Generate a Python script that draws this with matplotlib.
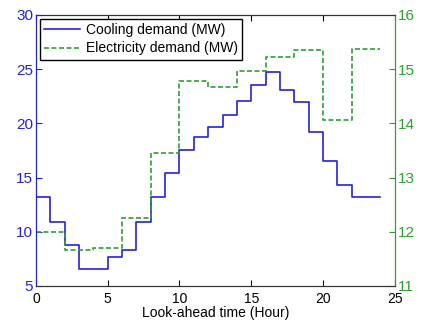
import numpy as np
import matplotlib
matplotlib.use('Agg')
import matplotlib.pyplot as plt

plt.rcParams['font.family'] = ['Liberation Sans', 'DejaVu Sans']

# hourly values (step, held over each hour)
hours = np.arange(0, 25)
cooling = [13.2, 10.9, 8.8, 6.6, 6.6, 7.7, 8.3, 10.9, 13.2, 15.4, 17.5, 18.7,
           19.7, 20.8, 22.1, 23.5, 24.7, 23.1, 22.0, 19.2, 16.5, 14.3, 13.2, 13.2]
electricity = [12.0, 12.0, 11.66, 11.66, 11.71, 11.71, 12.26, 12.26, 13.46, 13.46,
               14.79, 14.79, 14.68, 14.68, 14.96, 14.96, 15.23, 15.23, 15.35, 15.35,
               14.07, 14.07, 15.38, 15.38]

blue = '#2020e8'
green = '#2ea02e'

fig = plt.figure(figsize=(4.21, 3.27), dpi=100)
ax = fig.add_axes([0.0855, 0.1254, 0.852, 0.8288])
ax2 = ax.twinx()

l1, = ax.step(hours, cooling + [cooling[-1]], where='post', color=blue, lw=1.2)
l2, = ax2.step(hours, electricity + [electricity[-1]], where='post', color=green,
               lw=1.2, ls='--', dashes=(3, 1.5))

ax.set_xlim(0, 25)
ax.set_ylim(5, 30)
ax2.set_ylim(11, 16)
ax.set_xticks(np.arange(0, 26, 5))
ax.set_yticks(np.arange(5, 31, 5))
ax2.set_yticks(np.arange(11, 17, 1))

ax.tick_params(direction='in', length=4, labelsize=10, top=True, pad=2)
ax.tick_params(axis='x', pad=4)
ax.tick_params(axis='y', colors=blue, labelsize=11)
ax2.tick_params(direction='in', length=4, labelsize=11, colors=green, pad=2)

ax.spines['left'].set_color(blue)
ax2.spines['left'].set_color(blue)
ax2.spines['right'].set_color(green)
ax.spines['right'].set_color(green)
for sp in ['top', 'bottom']:
    ax.spines[sp].set_color('#333333')
    ax2.spines[sp].set_color('#333333')

ax.set_xlabel('Look-ahead time (Hour)', fontsize=10, labelpad=0)

leg = ax.legend([l1, l2], ['Cooling demand (MW)', 'Electricity demand (MW)'],
                loc='upper left', fontsize=10, fancybox=False, framealpha=1,
                edgecolor='black', borderaxespad=0.3, handlelength=2.6,
                handletextpad=0.4, borderpad=0.3, labelspacing=0.3)
leg.get_frame().set_linewidth(1.0)

fig.savefig('out.png', dpi=100)
